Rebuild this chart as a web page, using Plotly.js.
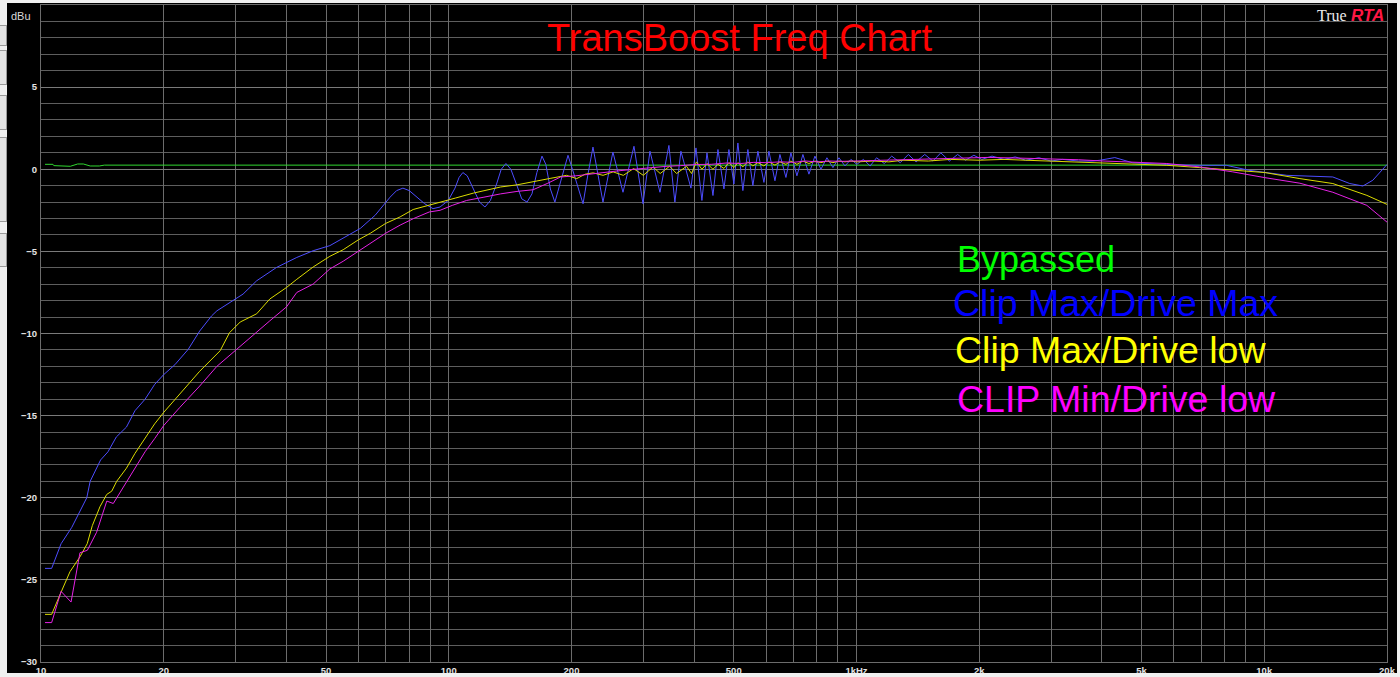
<!DOCTYPE html>
<html>
<head>
<meta charset="utf-8">
<script src="https://cdn.plot.ly/plotly-3.0.1.min.js"></script>
<style>
html,body{margin:0;padding:0;background:#f0f0f0;overflow:hidden;}
#chart{position:absolute;left:0;top:0;width:1400px;height:677px;}
.edge{position:absolute;background:#f0f0f0;z-index:5;}
.btn{position:absolute;left:0;width:6px;background:#e4e4e4;border:1px solid #9a9a9a;border-left:none;z-index:6;}
</style>
</head>
<body>
<div id="chart"></div>
<div class="edge" style="left:0;top:0;width:7px;height:677px;"></div>
<div class="edge" style="left:0;top:0;width:1400px;height:3px;"></div>
<div class="edge" style="left:1397px;top:0;width:3px;height:677px;"></div>
<div class="edge" style="left:0;top:673px;width:1400px;height:4px;"></div>
<div class="btn" style="top:25px;height:19px;"></div>
<div class="btn" style="top:50px;height:33px;"></div>
<div class="btn" style="top:95px;height:33px;"></div>
<div class="btn" style="top:137px;height:83px;"></div>
<div class="btn" style="top:233px;height:32px;"></div>
<script>
// ---- data ----
const seriesNames = ["Bypassed", "Clip Max/Drive Max", "Clip Max/Drive low", "CLIP Min/Drive low"];

const freqBypassed = [10.23, 10.7, 10.75, 11.6, 11.8, 12.3, 12.7, 13.2, 13.9, 14.3, 20, 100, 1000, 10000, 20000];
const dbBypassed   = [0.3, 0.3, 0.22, 0.22, 0.18, 0.32, 0.32, 0.2, 0.2, 0.25, 0.25, 0.25, 0.25, 0.25, 0.25];

const freqDriveMax = [10.23, 10.62, 11.2, 11.9, 12.95, 13.2, 14.0, 14.6, 15.3, 16.2, 17.0, 18.0, 19.0, 20.0, 21.3,
  22.97, 24.5, 26.2, 27.0, 29.6, 31.3, 33.8, 36.4, 37.8, 42.4, 46.5, 51.1, 55.1, 60.7, 66, 71.8, 74.5, 77.2, 80,
  82.7, 87.3, 91.5, 95.2, 99.7, 103.6, 106, 108.3, 111, 115, 119, 122.7, 126.5, 131, 134.5, 138.1, 142, 147, 151,
  155.6, 160, 164.5, 169.3, 173, 177.5, 182.1, 189, 196.1, 204, 213.5, 219.5, 225.8, 238.9, 252.7, 267.5, 284.6,
  299.5, 311.5, 329.6, 346.7, 358.6, 371, 392.6, 403.9, 417.7, 429.8, 444.6, 457.3, 473, 486.5, 500.4, 511.8,
  526.4, 541.5, 557, 573.1, 592.8, 609.8, 630.9, 648.9, 671.3, 690.5, 714.3, 738.9, 764.4, 790.7, 818, 846.3,
  875.4, 905.6, 936.8, 969, 1002, 1040, 1080, 1120, 1170, 1220, 1280, 1340, 1400, 1470, 1540, 1610, 1690, 1770,
  1850, 1940, 2030, 2150, 2300, 2450, 2600, 2800, 3000, 3200, 3500, 3800, 3954, 4301, 4761, 5770, 6952, 8070,
  9160, 10030, 11365, 14730, 16210, 17450, 18460, 20000];
const dbDriveMax = [-24.3, -24.3, -22.8, -21.8, -20.0, -19.0, -17.7, -17.2, -16.3, -15.7, -14.7, -14.0, -13.1, -12.5, -11.9,
  -10.96, -9.85, -8.93, -8.62, -8.01, -7.6, -6.79, -6.28, -5.98, -5.37, -4.96, -4.65, -4.2, -3.6, -2.8, -1.7, -1.3, -1.15, -1.3,
  -1.6, -2.1, -2.4, -2.3, -1.9, -1.15, -0.5, -0.2, -0.4, -1.2, -2.0, -2.3, -1.9, -0.9, 0.0, 0.35, 0.0, -1.0, -1.8,
  -2.0, -1.5, -0.2, 0.8, 0.3, -1.2, -2.0, -0.6, 0.85, -0.5, -2.1, -0.3, 1.35, -2.0, 1.05, -1.4, 1.4,
  -2.1, 1.1, -1.4, 1.45, -2.0, 1.1, -1.15, 1.3, -1.9, 1.0, -1.6, 1.2, -1.2, 1.2, -0.9, 1.6,
  -1.3, 1.2, -1.0, 1.1, -0.8, 1.1, -0.7, 0.9, -0.5, 1.0, -0.4, 0.9, -0.3, 0.8, 0.0, 0.7,
  0.1, 0.7, 0.2, 0.6, 0.3, 0.6, 0.2, 0.7, 0.35, 0.8, 0.4, 0.9, 0.45, 0.9, 0.5, 1.0, 0.5, 0.9,
  0.55, 0.85, 0.6, 0.8, 0.6, 0.75, 0.55, 0.7, 0.5, 0.6, 0.5, 0.5, 0.55, 0.71, 0.39, 0.29, 0.24, 0.24,
  -0.06, -0.2, -0.37, -0.47, -0.87, -1.02, -0.67, 0.29];

const freqDriveLow = [10.23, 10.62, 11.2, 11.78, 12.46, 12.98, 13.36, 13.95, 14.49, 14.91, 15.33, 16.2, 17.0, 18.0, 19.0,
  20.0, 21.9, 24.5, 27.5, 29.0, 30.8, 33.8, 36.4, 40, 42.4, 46.5, 51.1, 55.1, 60, 64.2, 70, 76, 81.8, 88, 95.2,
  104, 115, 124, 134, 147, 161, 178, 194.5, 206, 216, 226, 239, 253, 268, 284, 300, 317, 330, 348, 362, 383, 394,
  405, 417.7, 429.8, 444.6, 457.3, 473, 486.5, 500.4, 511.8, 526.4, 541.5, 557, 573.1, 592.8, 609.8, 630.9,
  648.9, 671.3, 690.5, 714.3, 738.9, 764.4, 790.7, 818, 846.3, 875.4, 905.6, 936.8, 969, 1002, 1100, 1200, 1300,
  1500, 1700, 2000, 2300, 2600, 3000, 3500, 3954, 4761, 5770, 6952, 8375, 10030, 12230, 14730, 17850, 20000];
const dbDriveLow = [-27.1, -27.1, -25.75, -24.5, -23.6, -22.8, -21.7, -20.55, -19.8, -19.6, -19.0, -18.2, -17.3, -16.4, -15.5,
  -14.8, -13.7, -12.3, -11.05, -9.95, -9.3, -8.8, -7.9, -7.2, -6.7, -5.95, -5.3, -4.9, -4.3, -3.9, -3.3, -2.9, -2.45, -2.25, -2.0,
  -1.75, -1.45, -1.25, -1.08, -0.95, -0.78, -0.55, -0.37, -0.57, -0.3, -0.22, -0.37, -0.16, -0.37, 0.04, -0.37, 0.14, -0.26, 0.18, -0.26, 0.18, -0.26,
  0.45, 0.0, 0.35, 0.0, 0.3, 0.05, 0.4, 0.1, 0.4, 0.15, 0.45, 0.2, 0.4, 0.2, 0.45, 0.25,
  0.45, 0.3, 0.5, 0.3, 0.5, 0.35, 0.5, 0.4, 0.5, 0.4, 0.5, 0.45, 0.5, 0.45, 0.5, 0.45, 0.55,
  0.5, 0.6, 0.55, 0.6, 0.55, 0.5, 0.45, 0.39, 0.31, 0.24, 0.1, -0.06, -0.2, -0.57, -0.87, -1.59, -2.14];

const freqClipMin = [10.23, 10.62, 11.2, 11.85, 12.46, 12.99, 13.69, 14.5, 15.04, 16.22, 17.0, 18.0, 19.0, 20.0, 21.9,
  24.5, 27, 29.9, 32.5, 36.4, 40, 42.4, 46.5, 51.1, 55.1, 60, 64.2, 70, 76, 82, 89.6, 95.2, 102, 110.6, 122, 134,
  147, 161, 175, 188, 205, 220, 237, 260, 284.6, 310, 343, 370, 405, 440, 480, 520, 560, 600, 650, 700, 750, 800,
  860, 920, 1000, 1200, 1500, 1800, 2100, 2500, 3000, 3500, 3954, 4761, 5770, 6952, 8375, 10030, 12230, 14730,
  17850, 20000];
const dbClipMin = [-27.6, -27.6, -25.7, -26.35, -23.35, -23.2, -22.1, -20.2, -20.35, -19.0, -18.2, -17.2, -16.4, -15.6, -14.5,
  -13.2, -12.0, -11.05, -10.25, -9.23, -8.38, -7.5, -6.99, -6.07, -5.6, -5.0, -4.5, -3.9, -3.4, -3.0, -2.6, -2.5, -2.2, -1.9, -1.7, -1.5,
  -1.35, -1.25, -0.85, -0.47, -0.4, -0.3, -0.22, -0.1, 0.0, 0.1, 0.18, 0.22, 0.29, 0.3, 0.38, 0.35, 0.42, 0.4, 0.45, 0.42, 0.5, 0.45,
  0.5, 0.48, 0.5, 0.55, 0.6, 0.68, 0.72, 0.68, 0.65, 0.58, 0.51, 0.45, 0.35, 0.14, -0.16, -0.51, -0.85, -1.4,
  -2.2, -3.22];

const gridFreqs  = [10, 20, 30, 40, 50, 60, 70, 80, 90, 100, 200, 300, 400, 500, 600, 700, 800, 900, 1000,
  2000, 3000, 4000, 5000, 6000, 7000, 8000, 9000, 10000, 20000];
const gridLabels = ["10", "20", "", "", "50", "", "", "", "", "100", "200", "", "", "500", "", "", "", "", "1kHz",
  "2k", "", "", "5k", "", "", "", "", "10k", "20k"];

const titleText = "TransBoost Freq Chart";
const unitLabel = "dBu";

// ---- chart ----
const W = 1400, H = 677, ML = 41, MR = 13, MT = 5, MB = 15;
const PW = W - ML - MR, PH = H - MT - MB;
const px = x => (x - ML) / PW;
const py = y => (H - MB - y) / PH;

const lineColors = ["#30d830", "#4d4dff", "#dcdc00", "#e622e6"];
const textColors = ["#00ff00", "#0000ff", "#ffff00", "#ff00ff"];

const traces = [
  {x: freqBypassed, y: dbBypassed},
  {x: freqDriveMax, y: dbDriveMax},
  {x: freqDriveLow, y: dbDriveLow},
  {x: freqClipMin, y: dbClipMin}
].map((t, i) => ({
  x: t.x, y: t.y, type: "scatter", mode: "lines", name: seriesNames[i],
  line: {color: lineColors[i], width: 1}, hoverinfo: "skip"
}));

const tickFont = {family: "Liberation Sans, Arial, sans-serif", size: 9.5, color: "#e4e4e4", weight: "bold"};
const gridGray = "#6c6c6c";

const legendY = [259.5, 303, 350, 399];
const legendX = [955, 951, 953, 955];
const legendSize = [36, 37.5, 37.5, 37.5];

const annotations = [
  {text: titleText, x: px(740), y: py(38.5), xref: "paper", yref: "paper", xanchor: "center", yanchor: "middle",
   showarrow: false, font: {family: "Liberation Sans, Arial, sans-serif", size: 38, color: "#ff0000"}},
  {text: unitLabel, x: px(9), y: py(16), xref: "paper", yref: "paper", xanchor: "left", yanchor: "middle",
   showarrow: false, font: {family: "Liberation Sans, Arial, sans-serif", size: 11, color: "#d8d8d8"}},
  {text: "True", x: px(1349), y: py(15.5), xref: "paper", yref: "paper", xanchor: "right", yanchor: "middle",
   showarrow: false, font: {family: "Liberation Serif, Times New Roman, serif", size: 16, color: "#ececec"}},
  {text: "<b><i>RTA</i></b>", x: px(1349), y: py(15.5), xref: "paper", yref: "paper", xanchor: "left", yanchor: "middle",
   showarrow: false, font: {family: "Liberation Sans, Arial, sans-serif", size: 17, color: "#ff1744"}}
].concat(seriesNames.map((n, i) => ({
  text: n, x: px(legendX[i]), y: py(legendY[i]), xref: "paper", yref: "paper", xanchor: "left", yanchor: "middle",
  showarrow: false, font: {family: "Liberation Sans, Arial, sans-serif", size: legendSize[i], color: textColors[i]}
})));

const layout = {
  width: W, height: H,
  margin: {l: ML, r: MR, t: MT, b: MB, pad: 0},
  paper_bgcolor: "#000000", plot_bgcolor: "#000000",
  showlegend: false,
  xaxis: {
    type: "log", range: [Math.log10(10), Math.log10(20000)],
    tickmode: "array", tickvals: gridFreqs, ticktext: gridLabels,
    showgrid: true, gridcolor: gridGray, gridwidth: 1,
    zeroline: false, showline: true, linecolor: gridGray, linewidth: 1, mirror: true,
    ticks: "", tickfont: tickFont, ticklabelstandoff: 0, fixedrange: true
  },
  yaxis: {
    range: [-30, 10], tickmode: "linear", tick0: 0, dtick: 5,
    showgrid: true, gridcolor: "#7a7a7a", gridwidth: 1,
    minor: {dtick: 1, tick0: 0, showgrid: true, gridcolor: "#5e5e5e", gridwidth: 1, ticks: ""},
    zeroline: false, showline: true, linecolor: gridGray, linewidth: 1, mirror: true,
    ticks: "", tickfont: tickFont, ticklabelstandoff: 1, fixedrange: true
  },
  annotations: annotations
};

Plotly.newPlot("chart", traces, layout, {displayModeBar: false, staticPlot: true});
</script>
</body>
</html>
